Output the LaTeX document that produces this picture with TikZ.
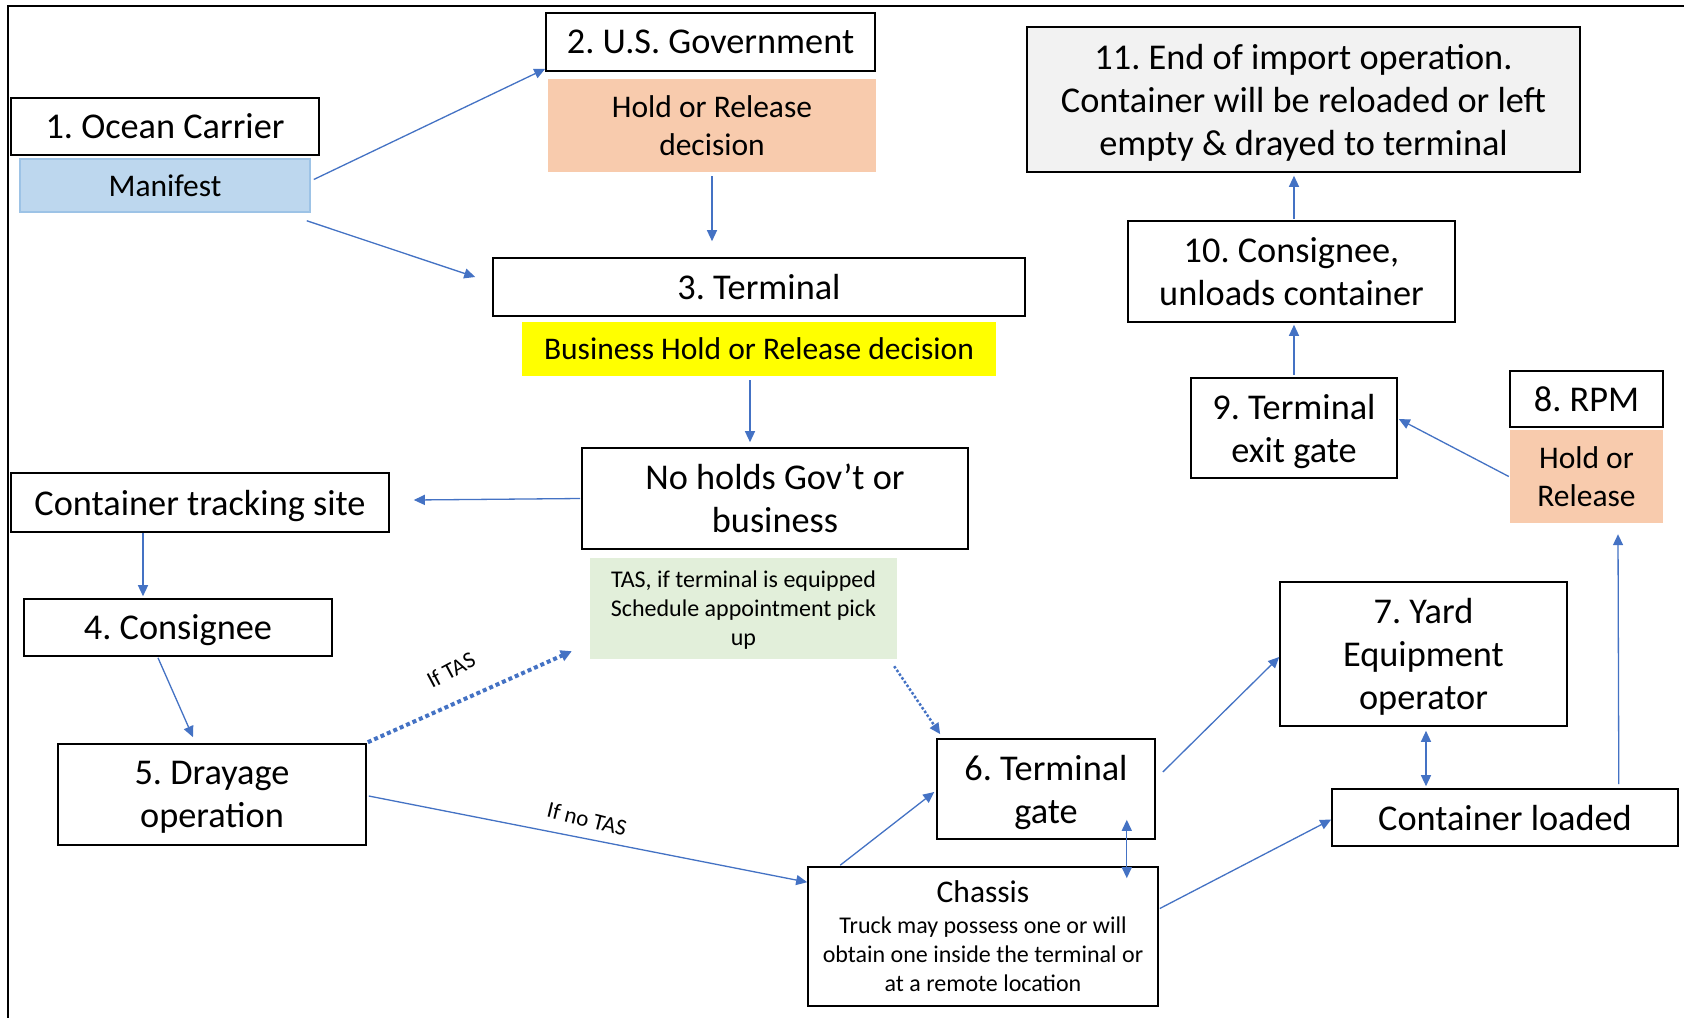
\documentclass[tikz,border=0pt]{standalone}
\usepackage{fontspec}
\setmainfont{Carlito}
\usetikzlibrary{arrows.meta,calc}
\definecolor{arrblue}{HTML}{4472C4}
\definecolor{peach}{HTML}{F8CBAD}
\definecolor{manblue}{HTML}{BDD7EE}
\definecolor{manborder}{HTML}{9DC3E6}
\definecolor{tasgreen}{HTML}{E2EFDA}
\definecolor{endgrey}{HTML}{F2F2F2}
\definecolor{bizyellow}{HTML}{FFFF00}
\newcommand\FontBig{\fontsize{36.3}{43}\selectfont}
\newcommand\FontMid{\fontsize{31.5}{38.5}\selectfont}
\newcommand\FontSmall{\fontsize{24}{29}\selectfont}
\newcommand\FontLab{\fontsize{23}{27}\selectfont}
\frenchspacing
\begin{document}
\frenchspacing
\begin{tikzpicture}[x=1pt,y=-1pt,
  box/.style={draw=black, line width=1.6pt, inner sep=0pt, align=center, text depth=0pt, font=\FontBig},
  fillbox/.style={draw=none, inner sep=0pt, align=center, text depth=0pt, font=\FontMid},
  lab/.style={inner sep=0pt, font=\FontLab},
  arr/.style={draw=arrblue, line width=1.3pt, -{Triangle[length=11pt,width=10pt]}},
  dblarr/.style={draw=arrblue, line width=1.3pt, {Triangle[length=11pt,width=10pt]}-{Triangle[length=11pt,width=10pt]}},
  dotthick/.style={draw=arrblue, line width=4pt, dash pattern=on 4pt off 3pt, -{Triangle[length=11pt,width=11pt]}},
  dotthin/.style={draw=arrblue, line width=2.5pt, dash pattern=on 2.5pt off 2pt, -{Triangle[length=11pt,width=10pt]}}
]
\useasboundingbox (0,0) rectangle (1684,1018);
\fill[white] (0,0) rectangle (1684,1018);
% frame
\draw[line width=2.5pt] (1684,6) -- (8,6) -- (8,1018);

% nodes
\node[box, minimum width=308, minimum height=57] (ocean) at (165,126.5) {1. Ocean Carrier};
\node[fillbox, draw=manborder, line width=1.5pt, fill=manblue, minimum width=290, minimum height=53] (manifest) at (165,185.5) {Manifest};
\node[box, minimum width=329, minimum height=58] (usgov) at (710.5,42) {2. U.S. Government};
\node[fillbox, fill=peach, minimum width=328, minimum height=93] (usgovhr) at (712,125.5) {Hold or Release\\decision};
\node[box, minimum width=532, minimum height=58] (terminal) at (759,287) {3. Terminal};
\node[fillbox, fill=bizyellow, minimum width=474, minimum height=54] (business) at (759,349) {Business Hold or Release decision};
\node[box, minimum width=386, minimum height=101] (noholds) at (775,498.5) {No holds Gov’t or\\business};
\node[box, minimum width=378, minimum height=59] (tracking) at (200,502.5) {Container tracking site};
\node[box, minimum width=308, minimum height=57] (consignee) at (178,627.5) {4. Consignee};
\node[box, minimum width=308, minimum height=101] (drayage) at (212,794.5) {5. Drayage\\operation};
\node[fillbox, fill=tasgreen, font=\FontSmall, minimum width=307, minimum height=101] (tas) at (743.5,608.5) {TAS, if terminal is equipped\\Schedule appointment pick\\up};
\node[box, minimum width=218, minimum height=100] (tgate) at (1046,789) {6. Terminal\\gate};
\node[box, font=\FontSmall, minimum width=350, minimum height=139] (chassis) at (983,936.5) {{\FontMid Chassis}\\[2pt]Truck may possess one or will\\obtain one inside the terminal or\\at a remote location};
\node[box, minimum width=287, minimum height=144] (yard) at (1423.5,654) {7. Yard\\Equipment\\operator};
\node[box, minimum width=346, minimum height=57] (loaded) at (1505,817.5) {Container loaded};
\node[box, minimum width=153, minimum height=56] (rpm) at (1586.5,399) {8. RPM};
\node[fillbox, fill=peach, minimum width=153, minimum height=93] (rpmhr) at (1586.5,476.5) {Hold or\\Release};
\node[box, minimum width=206, minimum height=100] (exitgate) at (1294,428) {9. Terminal\\exit gate};
\node[box, minimum width=327, minimum height=101] (cons10) at (1291.5,271.5) {10. Consignee,\\unloads container};
\node[box, fill=endgrey, minimum width=553, minimum height=145] (end11) at (1303.5,99.5) {11. End of import operation.\\Container will be reloaded or left\\empty \& drayed to terminal};

% labels
\node[lab, rotate=28] (iftas) at (451,670) {If TAS};
\node[lab, rotate=-14] (ifnotas) at (587,819) {If no TAS};

% connectors
\draw[arr] ($(manifest.east)+(3,-6)$) -- ($(usgov.south west)+(0,-3)$);
\draw[arr] ($(manifest.south east)+(-4,8)$) -- ($(terminal.west)+(-17,-10)$);
\draw[arr] ($(usgovhr.south)+(0,4)$) -- ($(usgovhr.south |- terminal.north)+(0,-16)$);
\draw[arr] ($(business.south)+(-9,4)$) -- ($(noholds.north)+(-25,-5)$);
\draw[arr] ($(noholds.west)+(-1,0)$) -- ($(tracking.east)+(24,-2.5)$);
\draw[arr] ($(tracking.south)+(-57,0)$) -- ($(consignee.north)+(-35,-2)$);
\draw[arr] ($(consignee.south)+(-20,1)$) -- ($(drayage.north)+(-19,-6)$);
\draw[dotthick] ($(drayage.north east)+(1,-1)$) -- ($(tas.south west)+(-18,-8)$);
\draw[dotthin] ($(tas.south east)+(-3,7)$) -- ($(tgate.north west)+(4,-4)$);
\draw[arr] ($(drayage.east)+(2,1.5)$) -- ($(chassis.north west)+(0,16)$);
\draw[arr] ($(chassis.north west)+(33,-1)$) -- ($(tgate.west)+(-2,3)$);
\draw[dblarr] ($(tgate.south east)+(-29,-20)$) -- ($(chassis.north east)+(-32,12)$);
\draw[arr] ($(tgate.east)+(7,-17)$) -- ($(yard.west)+(0,3)$);
\draw[arr] ($(chassis.east)+(1,-28)$) -- ($(loaded.west)+(0,2)$);
\draw[dblarr] ($(yard.south)+(2.5,4)$) -- ($(yard.south |- loaded.north)+(2.5,-2)$);
\draw[arr] ($(loaded.north east)+(-60,-4)$) -- ($(rpmhr.south)+(31.5,11)$);
\draw[arr] ($(rpmhr.west)+(-1,0)$) -- ($(exitgate.east)+(1,-9)$);
\draw[arr] ($(exitgate.north)+(0,-2)$) -- ($(cons10.south)+(2.5,2)$);
\draw[arr] ($(cons10.north)+(2.5,-1)$) -- ($(end11.south)+(-9.5,3)$);
\end{tikzpicture}
\end{document}
